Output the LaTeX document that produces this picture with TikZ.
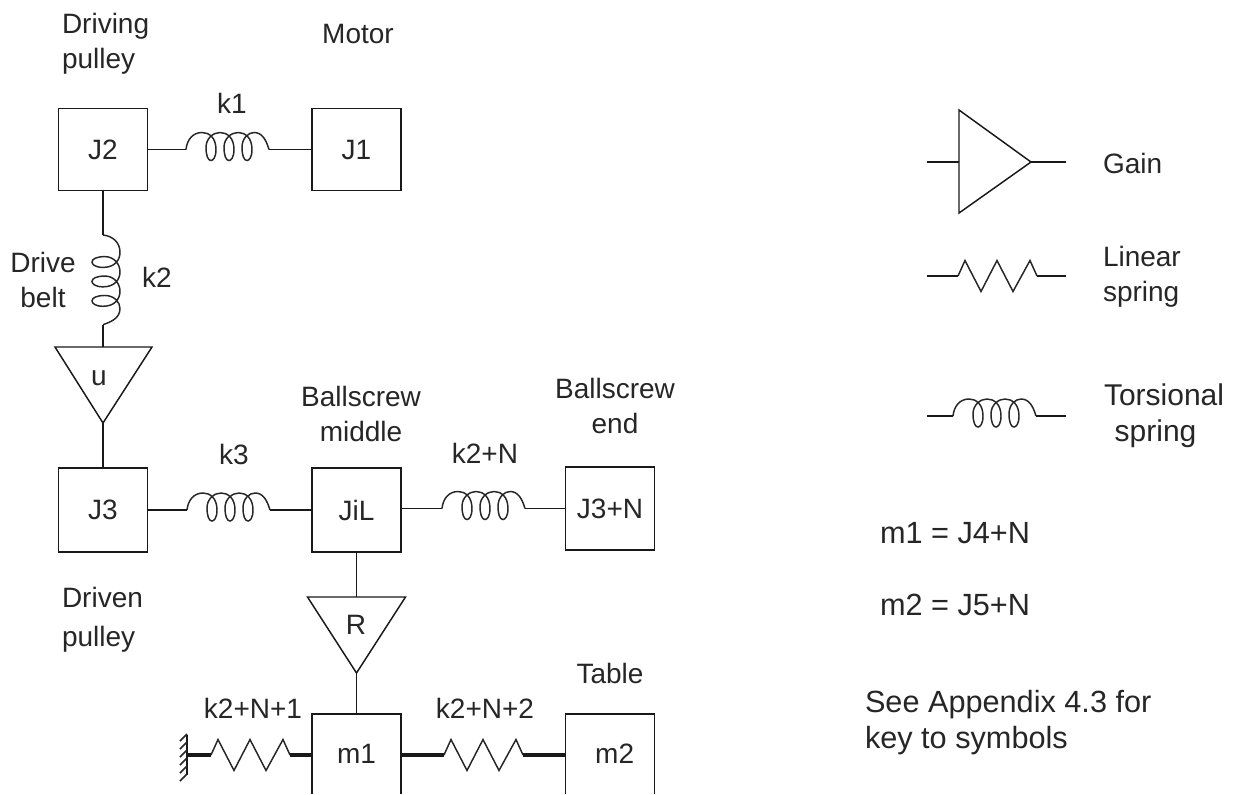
\documentclass[tikz,border=0pt]{standalone}
\usepackage{fontspec}
\setmainfont{Liberation Sans}
\begin{document}
\begin{tikzpicture}[x=0.75pt,y=-0.75pt,
  wire/.style={line width=1.3pt,color=black!90},
  thickwire/.style={line width=2.6pt,color=black!90},
  springline/.style={line width=1.1pt,color=black!85},
  txt/.style={inner sep=0pt,outer sep=0pt,text=black!85,font=\fontsize{21}{26.25}\selectfont},
  bigtxt/.style={txt,font=\fontsize{23}{27}\selectfont},
  blockbox/.style={txt,draw=black!90,line width=1.3pt,minimum width=66.75pt,minimum height=61.5pt},
  openbox/.style={txt,minimum width=66.75pt,minimum height=60pt},
  tspring/.pic={
    \coordinate (-in) at (0,0);
    \coordinate (-out) at (83,0);
    \draw[springline] (0,0) .. controls (1,-10) and (7,-17) .. (16,-17)
      .. controls (23,-17) and (30,-12) .. (30,0)
      .. controls (30,8) and (27,11) .. (25,11)
      .. controls (22,11) and (20,6) .. (20,-2)
      .. controls (20,-11) and (27,-17) .. (34,-17)
      .. controls (41,-17) and (48,-12) .. (48,0)
      .. controls (48,8) and (45,11) .. (43,11)
      .. controls (40,11) and (38,6) .. (38,-2)
      .. controls (38,-11) and (45,-17) .. (52,-17)
      .. controls (59,-17) and (66,-12) .. (66,0)
      .. controls (66,8) and (63,11) .. (61,11)
      .. controls (58,11) and (56,6) .. (56,-2)
      .. controls (56,-11) and (62,-17) .. (68,-17)
      .. controls (76,-17) and (80,-10) .. (83,0);
  },
  lspring/.pic={
    \coordinate (-in) at (0,0);
    \coordinate (-out) at (79,0);
    \draw[springline] (0,0) -- (7,-15.5) -- (23,15.5) -- (39,-15.5) -- (55,15.5) -- (72,-15.5) -- (79,0);
  }]
\useasboundingbox (0,0) rectangle (1240,794);
\fill[white] (0,0) rectangle (1240,794);

% blocks
\node[blockbox] (J2) at (103,149.5) {J2};
\node[blockbox] (J1) at (356.5,149.5) {J1};
\node[blockbox,minimum height=63pt] (J3) at (103,510) {J3};
\node[blockbox,minimum height=63pt] (JiL) at (356.5,510) {JiL};
\node[blockbox,minimum height=62pt] (J3N) at (610,508.5) {J3+N};
\node[openbox] (m1) at (356.5,754) {m1};
\node[openbox] (m2) at (610,754) {\hspace*{7pt}m2};
\draw[wire] (m1.south west) |- (m1.north east) -- (m1.south east);
\draw[wire] (m2.south west) |- (m2.north east) -- (m2.south east);

% gain triangles
\coordinate (uTop) at (103,347);
\coordinate (uApex) at (103,423);
\draw[wire,line width=1.1pt] (55,347) -- (152,347) -- (uApex) -- cycle;
\node[txt] (u) at (99,378) {u};
\coordinate (rTop) at (356.5,597);
\coordinate (rApex) at (356.5,673);
\draw[wire,line width=1.1pt] (307.5,597) -- (405.5,597) -- (rApex) -- cycle;
\node[txt] (R) at (356,625) {R};

% torsional springs
\pic (s1) at (186,149.5) {tspring};
\pic[rotate=-90,xscale=1.08] (s2) at (103,235) {tspring};
\pic (s3) at (187,510) {tspring};
\pic (s4) at (442,508.5) {tspring};
\draw[wire] (J2.east) -- (s1-in);
\draw[wire] (s1-out) -- (J1.west);
\draw[wire] (J2.south) -- (s2-in);
\draw[wire] (s2-out) -- (uTop);
\draw[wire] (uApex) -- (J3.north);
\draw[wire] (J3.east) -- (s3-in);
\draw[wire] (s3-out) -- (JiL.west);
\draw[wire] (JiL.east |- s4-in) -- (s4-in);
\draw[wire] (s4-out) -- (J3N.west);
\draw[wire] (JiL.south) -- (rTop);
\draw[wire] (rApex) -- (m1.north);

% linear springs
\coordinate (wall) at (187,755);
\pic (s5) at (211,755) {lspring};
\pic (s6) at (444,755) {lspring};
\draw[wire] (187,735) -- (187,775);
\foreach \yy in {734,742,750,758,766,774}
  \draw[springline] (187,\yy) -- (180,\yy+7);
\draw[thickwire] (wall) -- (s5-in);
\draw[thickwire] (s5-out) -- (m1.west |- s5-out);
\draw[thickwire] (m1.east |- s6-in) -- (s6-in);
\draw[thickwire] (s6-out) -- (m2.west |- s6-out);

% legend
\coordinate (gTop) at (959,110);
\coordinate (gBot) at (959,213);
\coordinate (gIn) at (927,162);
\coordinate (gTip) at (1031,162);
\coordinate (gOut) at (1066,162);
\draw[wire,line width=1.1pt] (gTop) -- (gBot) -- (gTip) -- cycle;
\draw[wire] (gIn) -- (gIn -| gTop);
\draw[wire] (gTip) -- (gOut);
\coordinate (lIn) at (927,276);
\coordinate (lOut) at (1066,276);
\pic (s7) at (958,276) {lspring};
\draw[wire] (lIn) -- (s7-in);
\draw[wire] (s7-out) -- (lOut);
\coordinate (tIn) at (927,416);
\coordinate (tOut) at (1066,416);
\pic (s8) at (953,416) {tspring};
\draw[wire] (tIn) -- (s8-in);
\draw[wire] (s8-out) -- (tOut);

% labels
\node[txt,align=left,anchor=west] (drivingp) at (62,44) {Driving\\pulley};
\node[txt] (motor) at (358,34) {Motor};
\node[txt] (k1) at (232,103) {k1};
\node[txt,align=center] (belt) at (43,280) {Drive\\belt};
\node[txt] (k2) at (157,277) {k2};
\node[txt] (k3) at (234,454) {k3};
\node[txt] (k2N) at (485,453) {k2+N};
\node[txt,align=center] (bsm) at (361,414) {Ballscrew\\middle};
\node[txt,align=center] (bse) at (615,406) {Ballscrew\\end};
\node[txt,align=left,anchor=west,font=\fontsize{21}{29}\selectfont] (drivenp) at (62,620) {Driven\\pulley};
\node[txt] (table) at (610,673) {Table};
\node[txt] (k2N1) at (253,708) {k2+N+1};
\node[txt] (k2N2) at (485,708) {k2+N+2};
\node[txt,anchor=west] (gain) at (1103,163) {Gain};
\node[txt,align=left,anchor=west] (linear) at (1103,277) {Linear\\spring};
\node[txt,align=left,anchor=west,font=\fontsize{22.5}{27}\selectfont] (tors) at (1104,416) {Torsional\\\hspace*{8pt}spring};
\node[bigtxt,anchor=west] (eq1) at (880,533) {m1 = J4+N};
\node[bigtxt,anchor=west] (eq2) at (880,605) {m2 = J5+N};
\node[bigtxt,align=left,anchor=west] (see) at (865,723) {See Appendix 4.3 for\\key to symbols};
\end{tikzpicture}
\end{document}
